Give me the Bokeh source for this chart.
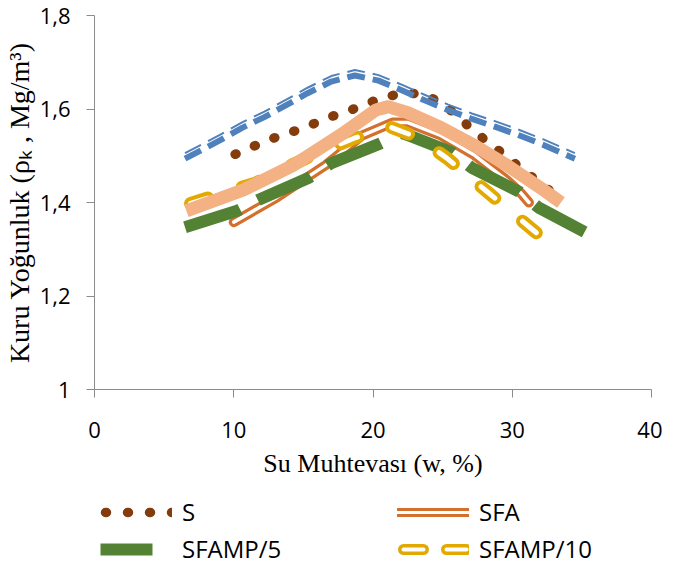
from bokeh.plotting import figure
from bokeh.models import FixedTicker, Legend, LegendItem
from bokeh.layouts import column
from bokeh.embed import file_html
from bokeh.resources import INLINE

# ---------------- data ----------------
s_x = [10.1, 11.4, 12.8, 14.0, 15.4, 16.7, 18.1, 19.5, 20.8, 22.2, 23.6, 24.9, 26.1, 27.1, 28.3, 29.4, 30.5, 31.7, 32.8]
s_y = [1.503, 1.520, 1.537, 1.549, 1.564, 1.581, 1.594, 1.611, 1.625, 1.634, 1.632, 1.613, 1.585, 1.556, 1.528, 1.503, 1.476, 1.448, 1.423]

sfa_x = [10.0, 13.1, 16.6, 19.2, 21.4, 22.5, 24.9, 27.3, 29.6, 30.6, 31.2]
sfa_y = [1.358, 1.411, 1.480, 1.543, 1.571, 1.571, 1.543, 1.501, 1.448, 1.421, 1.400]

sfamp5_x = [6.5, 10.3, 11.8, 15.4, 17.0, 20.5, 22.1, 25.7, 27.1, 30.5, 31.9, 35.2]
sfamp5_y = [1.347, 1.383, 1.406, 1.453, 1.484, 1.526, 1.549, 1.507, 1.474, 1.423, 1.389, 1.337]

sfamp10_x = [6.9, 11.6, 15.2, 18.6, 21.2, 23.2, 25.3, 28.2, 32.1]
sfamp10_y = [1.398, 1.442, 1.495, 1.537, 1.562, 1.539, 1.495, 1.423, 1.326]

blue_x = [6.5, 9.0, 10.6, 12.2, 13.8, 15.3, 17.0, 18.7, 20.4, 22.1, 23.7, 25.4, 27.1, 28.8, 30.4, 32.2, 34.5]
blue_y = [1.498, 1.537, 1.564, 1.587, 1.613, 1.638, 1.663, 1.676, 1.665, 1.644, 1.623, 1.602, 1.583, 1.566, 1.549, 1.528, 1.498]

peach_x = [6.6, 10.7, 14.3, 17.8, 20.2, 21.1, 22.5, 24.9, 27.3, 29.6, 32.0, 33.5]
peach_y = [1.382, 1.427, 1.480, 1.547, 1.598, 1.605, 1.592, 1.560, 1.522, 1.480, 1.432, 1.400]

y_ticks = [1.0, 1.2, 1.4, 1.6, 1.8]
y_tick_labels = ["1", "1,2", "1,4", "1,6", "1,8"]
x_ticks = [0, 10, 20, 30, 40]

legend_labels = ["S", "SFA", "SFAMP/5", "SFAMP/10"]

# ---------------- styles ----------------
C_S, C_SFA, C_G, C_Y, C_B, C_P = "#843C0C", "#D4702E", "#548235", "#E2AA00", "#4F81BD", "#F4B183"
st_s = dict(line_color=C_S, line_width=9.5, line_dash="1 20", line_cap="round")
st_sfa1 = dict(line_color=C_SFA, line_width=10, line_cap="round", line_join="round")
st_sfa2 = dict(line_color="white", line_width=3.5, line_cap="round", line_join="round")
st_g = dict(line_color=C_G, line_width=12, line_dash="58 20", line_join="round")
st_y1 = dict(line_color=C_Y, line_width=13, line_dash="18 36", line_cap="round", line_join="round")
st_y2 = dict(line_color="white", line_width=5, line_dash="18 36", line_cap="round", line_join="round")

# legend sample styles (the legend samples are drawn a little differently)
lg_s = dict(st_s, line_dash="1 21", line_dash_offset=-5)
lg_sfa1 = dict(st_sfa1, line_width=9)
lg_sfa2 = dict(st_sfa2, line_width=3)
lg_g = dict(st_g, line_dash="52 40")
lg_y1 = dict(st_y1, line_width=11, line_dash="20 23", line_dash_offset=-6)
lg_y2 = dict(st_y2, line_width=4, line_dash="20 23", line_dash_offset=-6)

# ---------------- main figure ----------------
TOP, FRAME_H, BOTTOM = 15, 374, 100
p = figure(width=662, height=TOP + FRAME_H + BOTTOM, x_range=(0, 40), y_range=(1.0, 1.8),
           output_backend="svg", toolbar_location=None,
           min_border_left=89, min_border_right=11, min_border_top=TOP,
           min_border_bottom=BOTTOM)
p.outline_line_color = None
p.xgrid.visible = False
p.ygrid.visible = False

axis_color = "#8C8C8C"
for ax in (p.xaxis[0], p.yaxis[0]):
    ax.axis_line_color = axis_color
    ax.major_tick_line_color = axis_color
    ax.minor_tick_line_color = None
    ax.major_tick_in = 0
    ax.major_tick_out = 8
    ax.major_label_text_font = "Open Sans"
    ax.major_label_text_font_size = "22px"
    ax.major_label_text_color = "#000000"
    ax.axis_label_text_font = "Liberation Serif"
    ax.axis_label_text_font_size = "26px"
    ax.axis_label_text_font_style = "normal"
    ax.axis_label_text_color = "#000000"

p.yaxis.axis_label_text_font_size = "28px"
p.xaxis.ticker = FixedTicker(ticks=x_ticks)
p.yaxis.ticker = FixedTicker(ticks=y_ticks)
p.yaxis.major_label_overrides = {t: l for t, l in zip(y_ticks, y_tick_labels)}
p.xaxis.axis_label = "Su Muhtevası (w, %)"
p.yaxis.axis_label = "Kuru Yoğunluk (ρₖ , Mg/m³)"
p.xaxis.major_label_standoff = 24
p.yaxis.major_label_standoff = 16
p.xaxis.axis_label_standoff = 8
p.yaxis.axis_label_standoff = 2

px = (1.8 - 1.0) / FRAME_H   # one screen pixel in y data units

p.line(s_x, s_y, **st_s)
p.line(sfa_x, sfa_y, **st_sfa1)
p.line(sfa_x, sfa_y, **st_sfa2)
p.line(sfamp5_x, sfamp5_y, **st_g)
p.line(sfamp10_x, sfamp10_y, **st_y1)
p.line(sfamp10_x, sfamp10_y, **st_y2)

# blue thin-thick dashed compound line
p.line(blue_x, [v - 2.0 * px for v in blue_y], line_color=C_B, line_width=6, line_dash="18 8")
p.line(blue_x, [v + 3.5 * px for v in blue_y], line_color=C_B, line_width=2, line_dash="18 8")

# peach thick solid line
p.line(peach_x, peach_y, line_color=C_P, line_width=13, line_join="round")

# ---------------- legend strip ----------------
LEG_H = 565 - (TOP + FRAME_H + BOTTOM)
q = figure(width=662, height=LEG_H, x_range=(0, 1), y_range=(0, 1),
           output_backend="svg", toolbar_location=None,
           x_axis_location=None, y_axis_location=None,
           min_border_left=0, min_border_right=0, min_border_top=0, min_border_bottom=0)
q.outline_line_color = None
q.xgrid.visible = False
q.ygrid.visible = False

nan = [float("nan")]
l_s = q.line(nan, nan, **lg_s)
l_sfa1 = q.line(nan, nan, **lg_sfa1)
l_sfa2 = q.line(nan, nan, **lg_sfa2)
l_g = q.line(nan, nan, **lg_g)
l_y1 = q.line(nan, nan, **lg_y1)
l_y2 = q.line(nan, nan, **lg_y2)

items = [
    LegendItem(label=legend_labels[0], renderers=[l_s]),
    LegendItem(label=legend_labels[1], renderers=[l_sfa1, l_sfa2]),
    LegendItem(label=legend_labels[2], renderers=[l_g]),
    LegendItem(label=legend_labels[3], renderers=[l_y1, l_y2]),
]
legend = Legend(items=items, location=(6, 0), orientation="horizontal", ncols=2,
                glyph_width=72, glyph_height=20, label_standoff=10, label_width=211,
                label_text_font="Open Sans", label_text_font_size="24px",
                label_text_color="#000000", spacing=4, padding=0, margin=0,
                border_line_alpha=0, background_fill_alpha=0)
q.add_layout(legend, "center")

layout = column(p, q, spacing=0)
open("out.html", "w").write(file_html(layout, INLINE))
